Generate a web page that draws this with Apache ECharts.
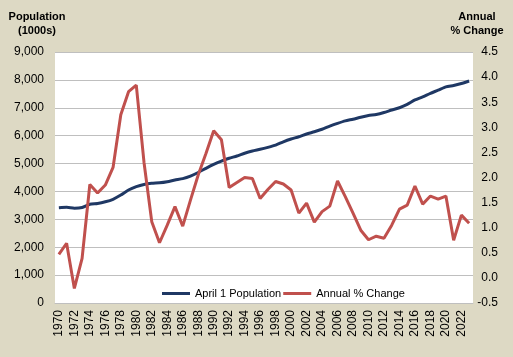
<!DOCTYPE html>
<html>
<head>
<meta charset="utf-8">
<script src="https://cdn.jsdelivr.net/npm/echarts@6/dist/echarts.min.js"></script>
<style>
html,body{margin:0;padding:0;background:#DDD9C4;}
#c{width:513px;height:357px;}
</style>
</head>
<body>
<div id="c"></div>
<script>
const years = [];
for (let y = 1970; y <= 2023; y++) years.push(String(y));

const population = [
  3415, 3430, 3400, 3425, 3540, 3570, 3630, 3720, 3870, 4050,
  4170, 4250, 4290, 4310, 4350, 4410, 4460, 4550, 4680, 4830,
  4970, 5090, 5190, 5270, 5370, 5450, 5510, 5580, 5660, 5780,
  5880, 5960, 6060, 6140, 6230, 6340, 6440, 6530, 6590, 6660,
  6720, 6760, 6830, 6920, 7000, 7120, 7280, 7390, 7520, 7630,
  7750, 7800, 7870, 7960
];

const pctChange = [
  0.47, 0.69, -0.21, 0.39, 1.86, 1.69, 1.85, 2.20, 3.25, 3.71,
  3.84, 2.30, 1.12, 0.70, 1.05, 1.42, 1.03, 1.55, 2.05, 2.48,
  2.93, 2.75, 1.80, 1.90, 2.00, 1.98, 1.58, 1.76, 1.92, 1.87,
  1.75, 1.29, 1.49, 1.11, 1.32, 1.43, 1.93, 1.62, 1.29, 0.95,
  0.76, 0.83, 0.79, 1.05, 1.37, 1.45, 1.83, 1.47, 1.63, 1.57,
  1.63, 0.75, 1.25, 1.09
];

const seriesNames = ['April 1 Population', 'Annual % Change'];

const chart = echarts.init(document.getElementById('c'), null, {renderer: 'canvas'});
const font = 'Liberation Sans, Arial, sans-serif';
chart.setOption({
  backgroundColor: '#DDD9C4',
  animation: false,
  textStyle: {fontFamily: font},
  grid: {left: 55, right: 40, top: 52, bottom: 54, show: true, backgroundColor: '#FFFFFF', borderWidth: 0},
  graphic: [
    {type: 'text', x: 37, y: 10, style: {text: 'Population\n(1000s)', font: 'bold 11px ' + font, fill: '#000', align: 'center', lineHeight: 14}},
    {type: 'text', x: 477, y: 10, style: {text: 'Annual\n% Change', font: 'bold 11px ' + font, fill: '#000', align: 'center', lineHeight: 14}}
  ],
  legend: {
    left: 157, top: 283,
    itemWidth: 28, itemHeight: 3, itemGap: 2,
    icon: 'rect',
    textStyle: {fontSize: 11, color: '#000', fontFamily: font},
    data: seriesNames
  },
  xAxis: {
    type: 'category',
    data: years,
    boundaryGap: true,
    axisLine: {lineStyle: {color: '#BFBFBF', width: 1}},
    axisTick: {show: false},
    axisLabel: {interval: 1, rotate: 90, fontSize: 12, color: '#000', margin: 7, fontFamily: font}
  },
  yAxis: [
    {
      type: 'value', min: 0, max: 9000, interval: 1000,
      axisLine: {show: false}, axisTick: {show: false},
      splitLine: {lineStyle: {color: '#BFBFBF', width: 1}},
      axisLabel: {fontSize: 12, color: '#000', margin: 11, fontFamily: font,
        formatter: v => v.toLocaleString('en-US')}
    },
    {
      type: 'value', min: -0.5, max: 4.5, interval: 0.5, position: 'right',
      axisLine: {show: false}, axisTick: {show: false},
      splitLine: {show: false},
      axisLabel: {fontSize: 12, color: '#000', margin: 25, align: 'right', fontFamily: font,
        formatter: v => v.toFixed(1)}
    }
  ],
  series: [
    {
      name: seriesNames[0], type: 'line', data: population, yAxisIndex: 0,
      symbol: 'none', smooth: 0.2,
      lineStyle: {color: '#1F3864', width: 3}, itemStyle: {color: '#1F3864'}
    },
    {
      name: seriesNames[1], type: 'line', data: pctChange, yAxisIndex: 1,
      symbol: 'none',
      lineStyle: {color: '#C0504D', width: 3}, itemStyle: {color: '#C0504D'}
    }
  ]
});
</script>
</body>
</html>
